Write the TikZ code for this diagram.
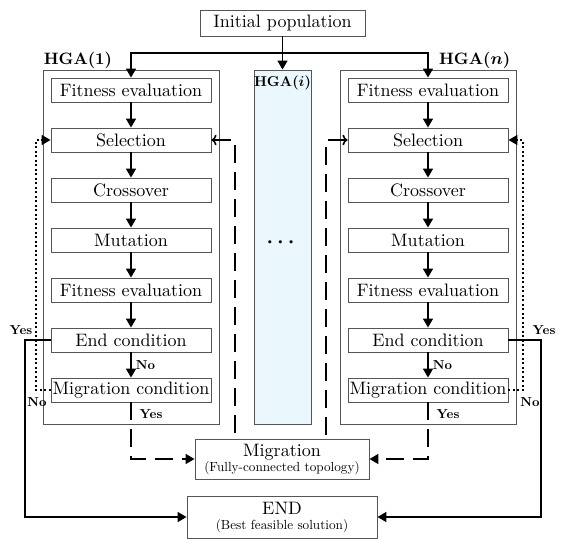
\documentclass[tikz,border=0pt]{standalone}
\usepackage{amsmath}
\usepackage{amssymb}
\usepackage{fontspec}
\setmainfont{lmroman10-regular.otf}[BoldFont=lmroman10-bold.otf, ItalicFont=lmroman10-italic.otf]
\usetikzlibrary{arrows.meta}
\definecolor{boxgray}{RGB}{85,85,85}
\definecolor{hgablue}{RGB}{234,248,253}

\begin{document}
\begin{tikzpicture}[x=1pt, y=-1pt,
        stepbox/.style={draw=boxgray, line width=0.9pt, minimum width=160pt, minimum height=24pt, inner sep=0pt, font=\fontsize{18}{20}\selectfont},
        groupbox/.style={draw=boxgray, line width=0.9pt, minimum width=176pt, minimum height=354pt, inner sep=0pt},
        grouplabel/.style={inner sep=1pt, font=\fontsize{16.5}{18}\selectfont\bfseries\boldmath},
        answer/.style={inner sep=1pt, font=\fontsize{13}{15}\selectfont\bfseries},
        flow/.style={line width=1.6pt, -{Triangle[length=9pt,width=10pt]}},
        migline/.style={flow, dash pattern=on 18pt off 9pt},
        backline/.style={flow, dash pattern=on 2pt off 2.5pt},
        plainline/.style={line width=1.6pt}]
        \useasboundingbox (0,0) rectangle (561,538);

        % 初始种群
        \node[stepbox, minimum width=165pt, minimum height=26pt] (init) at (282.5,23) {Initial population};

        % 三个子种群的外框
        \node[groupbox] (hga1) at (131,247) {};
        \node[groupbox] (hgan) at (428,247) {};
        \node[groupbox, minimum width=57pt, fill=hgablue] (hgai) at (282.5,247) {};
        \node[grouplabel, anchor=south west] (lab1) at (hga1.north west) {HGA(1)};
        \node[grouplabel, anchor=south east] (labn) at ([xshift=-5pt]hgan.north east) {HGA($n$)};
        \node[grouplabel, anchor=north, inner sep=0pt, font=\fontsize{14.3}{16}\selectfont\bfseries\boldmath] (labi) at ([yshift=-6pt]hgai.north) {HGA($i$)};
        \node[font=\fontsize{20}{20}\selectfont] (dots) at (282.5,243) {$\boldsymbol{\cdots}$};

        % HGA(1) 的各个步骤
        \node[stepbox] (fe1) at (131,90) {Fitness evaluation};
        \node[stepbox] (sel1) at (131,140) {Selection};
        \node[stepbox] (cro1) at (131,190) {Crossover};
        \node[stepbox] (mut1) at (131,240) {Mutation};
        \node[stepbox] (fev1) at (131,290) {Fitness evaluation};
        \node[stepbox] (ec1) at (131,340) {End condition};
        \node[stepbox] (mc1) at (131,390) {Migration condition};

        % HGA(n) 的各个步骤
        \node[stepbox] (fen) at (428,90) {Fitness evaluation};
        \node[stepbox] (seln) at (428,140) {Selection};
        \node[stepbox] (cron) at (428,190) {Crossover};
        \node[stepbox] (mutn) at (428,240) {Mutation};
        \node[stepbox] (fevn) at (428,290) {Fitness evaluation};
        \node[stepbox] (ecn) at (428,340) {End condition};
        \node[stepbox] (mcn) at (428,390) {Migration condition};

        % 迁移与结束
        \node[stepbox, minimum width=174pt, minimum height=40pt, align=center] (mig) at (282,459)
            {Migration\\[-5pt]{\fontsize{13.2}{14}\selectfont (Fully-connected topology)}};
        \node[stepbox, minimum width=190pt, minimum height=42pt, align=center] (endn) at (282,517)
            {END\\[-5pt]{\fontsize{13.2}{14}\selectfont (Best feasible solution)}};

        % 辅助坐标
        \coordinate (split) at (282.5,53);
        \coordinate (lx) at (235,0);
        \coordinate (rx) at (326,0);
        \coordinate (nl) at (36,0);
        \coordinate (nr) at (523,0);
        \coordinate (yl) at (25,0);
        \coordinate (yr) at (541,0);

        % 初始种群分发到各子种群
        \draw[flow] (init.south) -- (hgai.north);
        \draw[flow] (split) -| (fe1.north);
        \draw[flow] (split) -| (fen.north);

        % 步骤之间的箭头
        \draw[flow] (fe1) -- (sel1);
        \draw[flow] (sel1) -- (cro1);
        \draw[flow] (cro1) -- (mut1);
        \draw[flow] (mut1) -- (fev1);
        \draw[flow] (fev1) -- (ec1);
        \draw[flow] (ec1) -- (mc1) node[answer, midway, right=3pt] (no1) {No};
        \draw[flow] (fen) -- (seln);
        \draw[flow] (seln) -- (cron);
        \draw[flow] (cron) -- (mutn);
        \draw[flow] (mutn) -- (fevn);
        \draw[flow] (fevn) -- (ecn);
        \draw[flow] (ecn) -- (mcn) node[answer, midway, right=3pt] (non) {No};

        % 迁移(虚线)
        \draw[migline] (mc1.south) |- (mig.west);
        \draw[migline] (mcn.south) |- (mig.east);
        \draw[migline, <-] (sel1.east) -| (mig.north -| lx);
        \draw[migline, <-] (seln.west) -| (mig.north -| rx);
        \node[answer] (yes1b) at (151,414) {Yes};
        \node[answer] (yesnb) at (448,414) {Yes};

        % 不迁移时回到选择(点线)
        \draw[backline] (mc1.west) -- (mc1.west -| nl) |- (sel1.west);
        \draw[backline] (mcn.east) -- (mcn.east -| nr) |- (seln.east);
        \node[answer] (nol) at (37,402) {No};
        \node[answer] (nor) at (530,402) {No};

        % 满足结束条件
        \draw[plainline, -{Triangle[length=9pt,width=10pt]}] (ec1.west) -- (ec1.west -| yl) |- (endn.west);
        \draw[plainline, -{Triangle[length=9pt,width=10pt]}] (ecn.east) -- (ecn.east -| yr) |- (endn.east);
        \node[answer] (yesl) at (21,330) {Yes};
        \node[answer] (yesr) at (544,330) {Yes};
    \end{tikzpicture}
\end{document}
